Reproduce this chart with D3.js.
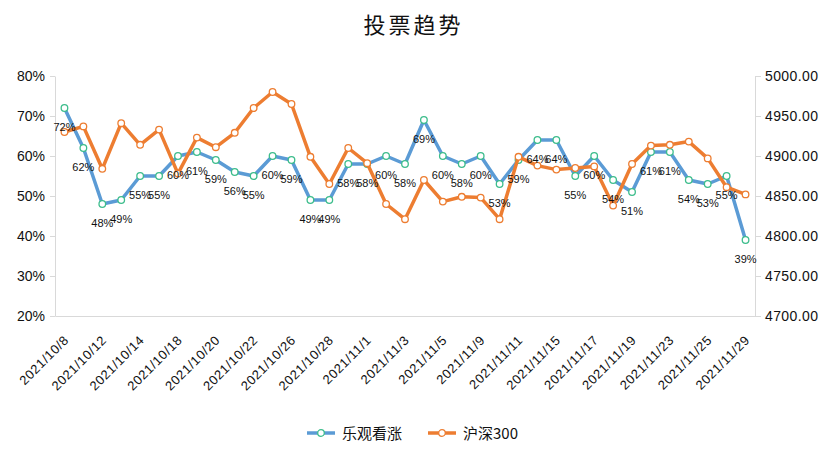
<!DOCTYPE html>
<html>
<head>
    <meta charset="utf-8">
    <title>投票趋势</title>
    <script src="https://d3js.org/d3.v7.min.js"></script>
    <style>
        body { margin: 0; background: #fff; }
        .axis text { font-family: "Liberation Sans", Arial, sans-serif; fill: #111; }
        .axis path, .axis line { stroke: #d9d9d9; }
    </style>
</head>
<body>
    <script>
        //****DATA****
        const dates = [
            '2021/10/8', '2021/10/11', '2021/10/12', '2021/10/13', '2021/10/14', '2021/10/15',
            '2021/10/18', '2021/10/19', '2021/10/20', '2021/10/21', '2021/10/22', '2021/10/25',
            '2021/10/26', '2021/10/27', '2021/10/28', '2021/10/29', '2021/11/1', '2021/11/2',
            '2021/11/3', '2021/11/4', '2021/11/5', '2021/11/8', '2021/11/9', '2021/11/10',
            '2021/11/11', '2021/11/12', '2021/11/15', '2021/11/16', '2021/11/17', '2021/11/18',
            '2021/11/19', '2021/11/22', '2021/11/23', '2021/11/24', '2021/11/25', '2021/11/26',
            '2021/11/29'
        ];
        // share of bullish votes (left axis)
        const bullish = [
            0.72, 0.62, 0.48, 0.49, 0.55, 0.55, 0.60, 0.61, 0.59, 0.56, 0.55, 0.60,
            0.59, 0.49, 0.49, 0.58, 0.58, 0.60, 0.58, 0.69, 0.60, 0.58, 0.60, 0.53,
            0.59, 0.64, 0.64, 0.55, 0.60, 0.54, 0.51, 0.61, 0.61, 0.54, 0.53, 0.55,
            0.39
        ];
        // CSI 300 close (right axis)
        const csi300 = [
            4930, 4937, 4884, 4941, 4914, 4933, 4878, 4923, 4911, 4929, 4960, 4980,
            4965, 4899, 4865, 4910, 4891, 4840, 4821, 4870, 4843, 4849, 4848, 4821,
            4899, 4888, 4883, 4885, 4887, 4838, 4890, 4913, 4914, 4918, 4897, 4861,
            4852
        ];
        const leftTicks = [0.2, 0.3, 0.4, 0.5, 0.6, 0.7, 0.8];
        const rightTicks = [4700, 4750, 4800, 4850, 4900, 4950, 5000];
        const seriesNames = ['乐观看涨', '沪深300'];

        //****CANVAS****
        const width = 827, height = 473;
        const plotLeft = 55, plotRight = 755, plotTop = 76, plotBottom = 316;
        const blue = '#5b9bd5', orange = '#ed7d31', green = '#3dbd8c';

        const svg = d3.select('body').append('svg')
            .attr('width', width)
            .attr('height', height);

        //****SCALES****
        const x = d3.scaleBand().domain(dates).range([plotLeft, plotRight]).padding(0);
        const cx = d => x(d) + x.bandwidth() / 2;
        const yL = d3.scaleLinear().domain([0.2, 0.8]).range([plotBottom, plotTop]);
        const yR = d3.scaleLinear().domain([4700, 5000]).range([plotBottom, plotTop]);

        //****AXES****
        svg.append('g')
            .attr('class', 'axis')
            .attr('transform', `translate(${plotLeft},0)`)
            .call(d3.axisLeft(yL).tickValues(leftTicks).tickFormat(d3.format('.0%'))
                .tickSize(5).tickSizeOuter(0).tickPadding(5))
            .selectAll('text').style('font-size', '14px');

        svg.append('g')
            .attr('class', 'axis')
            .attr('transform', `translate(${plotRight},0)`)
            .call(d3.axisRight(yR).tickValues(rightTicks).tickFormat(d3.format('.2f'))
                .tickSize(6).tickSizeOuter(0).tickPadding(4))
            .selectAll('text').style('font-size', '14px').style('letter-spacing', '0.4px');

        const xAxis = svg.append('g')
            .attr('class', 'axis')
            .attr('transform', `translate(0,${plotBottom})`)
            .call(d3.axisBottom(x).tickValues(dates.filter((d, i) => i % 2 === 0))
                .tickSize(0).tickSizeOuter(0));
        xAxis.selectAll('text')
            .attr('y', 0).attr('dy', 0)
            .attr('transform', 'translate(5,25) rotate(-45)')
            .style('text-anchor', 'end')
            .style('font-size', '13px')
            .style('letter-spacing', '0.6px');

        //****LINES****
        const lineL = d3.line().x((d, i) => cx(dates[i])).y(d => yL(d));
        const lineR = d3.line().x((d, i) => cx(dates[i])).y(d => yR(d));

        svg.append('path')
            .attr('d', lineL(bullish))
            .attr('fill', 'none').attr('stroke', blue)
            .attr('stroke-width', 3.5).attr('stroke-linejoin', 'round');
        svg.append('g').selectAll('circle')
            .data(bullish).enter().append('circle')
            .attr('cx', (d, i) => cx(dates[i])).attr('cy', d => yL(d))
            .attr('r', 3.3).attr('fill', '#fff')
            .attr('stroke', green).attr('stroke-width', 1.3);

        svg.append('path')
            .attr('d', lineR(csi300))
            .attr('fill', 'none').attr('stroke', orange)
            .attr('stroke-width', 3.5).attr('stroke-linejoin', 'round');
        svg.append('g').selectAll('circle')
            .data(csi300).enter().append('circle')
            .attr('cx', (d, i) => cx(dates[i])).attr('cy', d => yR(d))
            .attr('r', 3.3).attr('fill', '#fff')
            .attr('stroke', orange).attr('stroke-width', 1.3);

        // data labels under the bullish points
        svg.append('g').selectAll('text')
            .data(bullish).enter().append('text')
            .attr('x', (d, i) => cx(dates[i]))
            .attr('y', d => yL(d) + 23)
            .attr('text-anchor', 'middle')
            .style('font-family', '"Liberation Sans", Arial, sans-serif')
            .style('font-size', '11px')
            .style('fill', '#111')
            .text(d => d3.format('.0%')(d));

        //****TITLE****
        svg.append('text')
            .attr('x', 413.5).attr('y', 33)
            .attr('text-anchor', 'middle')
            .style('font-family', '"Noto Sans CJK SC", sans-serif')
            .style('font-size', '22px')
            .style('letter-spacing', '3px')
            .style('fill', '#111')
            .text('投票趋势');

        //****LEGEND****
        const legend = svg.append('g').attr('transform', 'translate(307,433)');
        const items = legend.selectAll('g')
            .data(seriesNames).enter().append('g')
            .attr('transform', (d, i) => `translate(${i * 121},0)`);
        items.append('line')
            .attr('x1', 0).attr('x2', 28).attr('y1', 0).attr('y2', 0)
            .attr('stroke', (d, i) => i === 0 ? blue : orange)
            .attr('stroke-width', 3.5);
        items.append('circle')
            .attr('cx', 14).attr('cy', 0).attr('r', 3.3)
            .attr('fill', '#fff')
            .attr('stroke', (d, i) => i === 0 ? green : orange)
            .attr('stroke-width', 1.3);
        items.append('text')
            .attr('x', 35).attr('y', 5.5)
            .style('font-family', '"Noto Sans CJK SC", sans-serif')
            .style('font-size', '15px')
            .style('fill', '#111')
            .text(d => d);
    </script>
</body>
</html>
